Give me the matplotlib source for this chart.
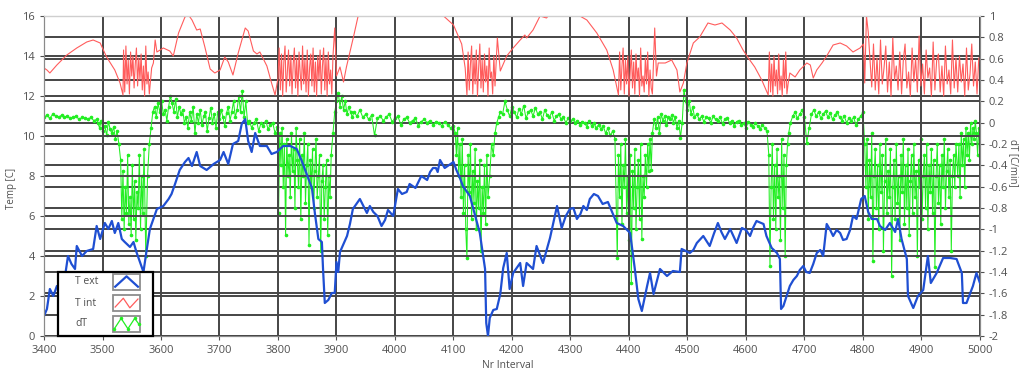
import numpy as np, matplotlib; matplotlib.use("Agg")
import matplotlib.pyplot as plt
from matplotlib.patches import Rectangle

plt.rcParams['font.family'] = ['Open Sans', 'DejaVu Sans']

# ---- T ext (left axis, degC) ----
text_x = [3400, 3405, 3410, 3416, 3422, 3430, 3436, 3441, 3447, 3453,
          3456, 3465, 3473, 3484, 3490, 3496, 3504, 3510, 3516, 3521,
          3527, 3533, 3538, 3547, 3553, 3558, 3564, 3570, 3575, 3581,
          3587, 3593, 3604, 3613, 3618, 3624, 3632, 3641, 3653, 3661,
          3667, 3678, 3690, 3701, 3707, 3715, 3723, 3732, 3738, 3744,
          3749, 3755, 3761, 3769, 3781, 3789, 3798, 3809, 3821, 3832,
          3840, 3849, 3858, 3863, 3869, 3875, 3877, 3880, 3886, 3892,
          3897, 3900, 3903, 3906, 3918, 3928, 3940, 3952, 3963, 3977,
          3988, 3997, 4005, 4020, 4030, 4040, 4050, 4060, 4070, 4077,
          4085, 4095, 4100, 4105, 4111, 4116, 4128, 4145, 4154, 4156,
          4159, 4162, 4168, 4174, 4180, 4185, 4191, 4196, 4202, 4214,
          4219, 4225, 4236, 4242, 4253, 4265, 4277, 4285, 4299, 4311,
          4322, 4333, 4347, 4355, 4364, 4379, 4390, 4402, 4410, 4416,
          4422, 4431, 4436, 4442, 4453, 4465, 4475, 4487, 4490, 4504,
          4516, 4527, 4538, 4552, 4564, 4573, 4584, 4593, 4607, 4618,
          4630, 4635, 4644, 4653, 4658, 4660, 4664, 4675, 4687, 4698,
          4709, 4721, 4732, 4738, 4749, 4761, 4772, 4783, 4789, 4797,
          4803, 4809, 4815, 4824, 4829, 4838, 4846, 4855, 4860, 4866,
          4875, 4877, 4886, 4894, 4903, 4911, 4916, 4926, 4937, 4949,
          4960, 4969, 4971, 4977, 4988, 4994, 5000]
text_y = [1.0, 1.35, 2.35, 2.0, 2.5, 2.2, 3.0, 4.0, 3.6, 3.35,
          4.5, 4.0, 4.25, 4.35, 5.5, 4.85, 5.65, 5.35, 5.75, 5.15,
          5.65, 4.85, 4.7, 4.45, 4.7, 4.2, 3.7, 3.2, 4.2, 5.35,
          5.85, 6.35, 6.5, 6.85, 7.1, 7.6, 8.3, 8.7, 8.5, 9.2,
          8.5, 8.3, 8.6, 8.8, 9.2, 8.6, 9.6, 9.75, 10.6, 10.85,
          9.75, 9.2, 10.15, 9.5, 9.5, 9.1, 9.2, 9.5, 9.5, 9.35,
          8.8, 8.1, 7.4, 6.15, 4.85, 4.7, 3.35, 1.65, 1.8, 2.15,
          2.15, 3.7, 3.2, 4.2, 5.0, 6.35, 6.85, 6.15, 6.2, 5.5,
          6.3, 6.0, 7.35, 7.2, 7.5, 7.7, 7.9, 8.2, 8.4, 8.8,
          8.4, 8.6, 8.7, 8.3, 7.9, 7.5, 7.0, 5.15, 3.35, 0.65,
          0.0, 0.9, 1.3, 1.35, 2.1, 3.4, 4.15, 2.35, 3.15, 3.65,
          2.5, 3.65, 3.35, 4.5, 3.65, 4.9, 6.5, 5.4, 6.35, 5.85,
          6.5, 6.85, 7.0, 6.6, 6.7, 5.65, 5.5, 5.15, 3.35, 1.85,
          1.25, 2.5, 3.15, 2.1, 3.35, 3.0, 3.25, 3.2, 4.35, 4.15,
          4.65, 5.0, 4.5, 5.65, 4.85, 5.35, 4.65, 5.4, 5.0, 5.75,
          5.6, 5.0, 4.4, 4.15, 3.85, 1.35, 1.5, 2.5, 3.0, 3.5,
          3.15, 4.15, 4.0, 5.6, 5.0, 5.15, 4.85, 6.0, 5.85, 6.85,
          7.0, 6.2, 5.85, 5.85, 5.5, 5.3, 5.65, 5.2, 5.85, 4.85,
          3.85, 2.0, 1.4, 2.0, 2.3, 4.0, 2.65, 3.15, 3.9, 3.9,
          3.85, 3.15, 1.65, 1.65, 2.5, 3.15, 2.65]
# extra readings of the small wiggles along T ext
text_x2 = [3647, 3912, 3923, 3957, 3970, 3983, 4012, 4025, 4035, 4045, 4055, 4065, 4073,
           4292, 4305, 4317, 4328, 4340, 4510, 4545, 4558, 4600, 4612,
           4681, 4692, 4703, 4715, 4727, 4744, 4755, 4766, 4778]
text_y2 = [8.9, 4.6, 5.6, 6.5, 6.0, 5.8, 7.1, 7.6, 7.4, 8.0, 7.8, 8.4, 8.2,
           6.0, 6.4, 6.1, 6.3, 7.1, 4.3, 5.1, 5.2, 5.3, 5.4,
           2.8, 3.3, 3.2, 3.6, 4.3, 5.3, 5.3, 4.8, 5.3]

# ---- T int (left axis, degC) ----
tint_x = ([3400, 3405, 3410, 3422, 3439, 3456, 3473, 3484, 3496, 3507, 3521, 3530, 3535]
          + list(range(3536, 3581, 2))
          + [3584, 3587, 3590, 3593, 3604, 3615, 3621, 3630, 3641, 3647, 3653, 3661, 3667, 3675, 3684,
             3692, 3701, 3709, 3715, 3723, 3732, 3744, 3749, 3758, 3764, 3769, 3781, 3789, 3795, 3800]
          + list(range(3802, 3895, 2))
          + [3897, 3900, 3906, 3912, 3917, 3929, 3937, 3950, 4000, 4060, 4083, 4100, 4114, 4120, 4123]
          + list(range(4125, 4176, 2))
          + [4180, 4191, 4202, 4214, 4222, 4225, 4236, 4248, 4259, 4270, 4300, 4316, 4328, 4345, 4362, 4373, 4382]
          + list(range(4384, 4441, 2))
          + [4444, 4447, 4450, 4462, 4473, 4482, 4487, 4493, 4499, 4510, 4521, 4535, 4547, 4559, 4573,
             4584, 4595, 4604, 4615, 4627, 4638]
          + list(range(4640, 4673, 2))
          + [4675, 4684, 4692, 4704, 4710, 4715, 4721, 4730, 4738, 4749, 4761, 4772, 4783, 4795, 4801,
             4803, 4806, 4809, 4815]
          + list(range(4818, 5001, 3)))
tint_y = ([13.4, 13.3, 13.15, 13.55, 14.05, 14.4, 14.7, 14.8, 14.65, 13.95, 13.3, 12.65, 12.05]
          + [14.3, 12.2, 14.5, 12.6, 13.8, 12.1, 14.2, 13.0, 14.0, 12.4, 13.6, 14.4, 12.5, 13.9, 12.8,
             14.1, 12.3, 13.5, 12.0, 14.5, 12.6, 13.2, 12.1]
          + [13.4, 13.65, 14.8, 14.2, 14.4, 14.25, 14.0, 15.15, 15.95, 16.05, 15.8, 15.3, 15.35, 14.45, 13.35,
             13.15, 13.3, 13.95, 13.7, 13.05, 14.15, 15.4, 15.25, 14.25, 14.1, 14.2, 13.5, 12.65, 12.05, 12.9]
          + [14.4, 12.3, 14.1, 12.0, 13.7, 14.5, 12.2, 13.2, 14.3, 12.5, 14.0, 12.1, 13.6, 14.4, 12.4, 13.9,
             12.0, 14.2, 13.1, 12.3, 14.5, 12.6, 13.8, 12.2, 14.3, 12.0, 13.4, 14.1, 12.5, 14.4, 12.2, 13.7,
             12.0, 14.0, 12.8, 14.3, 12.1, 13.5, 14.4, 12.3, 13.9, 12.0, 14.2, 12.6, 13.3, 12.1, 14.0]
          + [15.4, 13.0, 13.45, 12.7, 13.45, 14.95, 16.0, 16.8, 17.5, 17.0, 16.0, 15.55, 14.6, 13.4, 12.05]
          + [14.2, 12.3, 13.6, 14.5, 12.1, 13.9, 12.6, 14.3, 12.0, 13.4, 14.6, 12.4, 13.8, 12.2, 14.1, 12.7,
             13.5, 12.0, 14.4, 12.9, 13.2, 12.1, 14.0, 12.5, 13.7, 14.9]
          + [13.25, 14.0, 14.4, 14.8, 15.05, 14.9, 15.3, 16.0, 15.9, 16.3, 16.6, 16.0, 15.8, 15.15, 14.3, 13.3, 12.05]
          + [14.2, 12.3, 13.5, 14.4, 12.1, 13.8, 12.6, 14.0, 12.0, 13.2, 14.3, 12.4, 13.7, 12.1, 14.1, 12.8,
             13.4, 12.0, 14.4, 12.5, 13.0, 12.2, 13.9, 12.6, 14.2, 12.0, 13.3, 12.4, 12.1]
          + [15.4, 13.0, 13.65, 13.65, 13.8, 13.3, 12.2, 12.65, 13.65, 14.65, 14.95, 15.65, 15.55, 15.65, 15.3,
             14.9, 14.3, 13.9, 13.45, 12.8, 12.05]
          + [14.2, 12.2, 13.6, 12.0, 14.0, 12.5, 13.3, 12.1, 14.1, 12.3, 13.0, 12.0, 13.8, 12.4, 14.2, 12.1, 12.6]
          + [13.15, 12.95, 13.3, 13.65, 13.55, 12.9, 13.3, 13.65, 14.0, 14.55, 14.65, 14.5, 14.2, 14.4, 14.6,
             12.65, 16.0, 15.2, 12.45]
          + [14.6, 12.3, 13.9, 12.1, 14.8, 12.6, 13.4, 14.5, 12.2, 13.7, 12.0, 14.9, 12.8, 13.5, 12.3, 14.2,
             12.1, 13.8, 14.6, 12.4, 13.2, 12.0, 14.4, 12.7, 13.9, 12.2, 15.0, 12.5, 13.6, 12.1, 14.3, 12.9,
             13.4, 12.0, 14.7, 12.3, 13.8, 14.1, 12.2, 13.5, 12.0, 14.5, 12.6, 13.3, 12.1, 14.8, 12.4, 13.9,
             12.2, 14.0, 12.7, 13.6, 12.0, 14.4, 12.3, 13.1, 14.6, 12.5, 13.7, 12.1, 13.9])

# ---- dT (right axis, C/min) ----
dt_x = (list(range(3400, 3491, 5)) + list(range(3492, 3530, 3)) + list(range(3531, 3572, 2))
        + [3574, 3577, 3580, 3583, 3586]
        + list(range(3589, 3641, 3)) + list(range(3643, 3731, 3))
        + [3733, 3736, 3739, 3742, 3745, 3748]
        + list(range(3751, 3800, 4)) + list(range(3801, 3893, 2))
        + [3894, 3897, 3900, 3903, 3906, 3909, 3912, 3915, 3918, 3921, 3924, 3927]
        + list(range(3930, 4101, 5)) + list(range(4103, 4160, 2))
        + [4162, 4165, 4168, 4171, 4174, 4177]
        + list(range(4180, 4301, 4)) + list(range(4304, 4377, 4)) + list(range(4380, 4441, 2))
        + list(range(4443, 4513, 3)) + list(range(4516, 4637, 4)) + list(range(4639, 4674, 2))
        + list(range(4676, 4801, 4)) + list(range(4803, 4961, 2)) + list(range(4962, 5001, 2)))
dt_y = ([0.05, 0.07, 0.04, 0.08, 0.06, 0.05, 0.07, 0.05, 0.06, 0.04, 0.05, 0.06, 0.03, 0.05, 0.04,
         0.03, 0.05, 0.02, 0.03]
        + [0.0, -0.05, 0.02, -0.08, -0.03, -0.12, 0.01, -0.06, -0.1, -0.04, -0.15, -0.08, -0.2]
        + [-0.35, -0.9, -0.45, -1.0, -0.6, -0.85, -0.3, -0.95, -0.7, -1.05, -0.4, -0.9, -0.55, -1.1,
           -0.65, -0.8, -0.3, -1.0, -0.5, -0.85, -0.25]
        + [-1.25, -0.5, -0.2, -0.05, 0.1]
        + [0.15, 0.05, 0.18, 0.1, 0.2, 0.08, 0.12, 0.02, 0.15, 0.25, 0.18, 0.1, 0.22, 0.05, 0.15, 0.08, 0.12, 0.0]
        + [0.05, -0.05, 0.1, 0.02, 0.15, -0.1, 0.08, 0.0, 0.12, -0.02, 0.06, 0.1, -0.08, 0.04, 0.14,
           0.0, 0.08, -0.05, 0.1, 0.03, 0.12, 0.05, -0.03, 0.09, 0.15, 0.02, 0.1, 0.2, 0.05, 0.12]
        + [0.25, 0.1, 0.3, 0.05, 0.2, 0.0]
        + [0.02, -0.05, 0.0, 0.03, -0.08, 0.0, -0.03, 0.02, -0.06, -0.02, 0.0, -0.1, -0.04]
        + [-0.85, -0.1, -0.4, -0.05, -0.6, -0.2, -1.05, -0.15, -0.5, -0.3, -0.7, -0.1, -0.45, -0.25,
           -0.8, -0.05, -0.35, -0.6, -0.15, -0.9, -0.3, -0.5, -0.1, -0.75, -0.4, -0.2, -1.15, -0.35,
           -0.6, -0.25, -0.8, -0.45, -0.15, -0.7, -0.5, -0.3, -1.2, -0.55, -0.4, -0.9, -0.6, -0.35,
           -1.05, -0.5, -0.7, -0.3]
        + [-0.1, 0.1, 0.2, 0.28, 0.15, 0.25, 0.12, 0.2, 0.08, 0.15, 0.1, 0.05]
        + [0.1, 0.06, 0.12, 0.05, 0.08, 0.03, 0.07, -0.12, 0.04, 0.06, 0.02, 0.05, 0.08, 0.01, 0.04,
           0.06, -0.02, 0.03, 0.05, 0.0, 0.02, 0.04, -0.03, 0.01, 0.03, 0.0, 0.02, -0.02, 0.01, 0.0,
           -0.03, 0.01, -0.02, -0.05, -0.03]
        + [-0.1, -0.3, -0.05, -0.5, -0.2, -0.7, -0.15, -0.85, -0.4, -1.0, -1.27, -0.3, -0.65, -0.2,
           -0.9, -0.45, -0.75, -0.25, -1.0, -0.55, -0.8, -0.35, -1.2, -0.6, -0.85, -0.4, -0.95, -0.3, -0.7]
        + [-0.5, -0.2, -0.3, -0.1, 0.0, 0.05]
        + [0.1, 0.08, 0.2, 0.12, 0.06, 0.15, 0.1, 0.05, 0.13, 0.08, 0.16, 0.04, 0.1, 0.12, 0.06, 0.14,
           0.08, 0.1, 0.03, 0.12, 0.07, 0.05, 0.1, 0.02, 0.06, 0.08, 0.03, 0.05, 0.0, 0.04, 0.02]
        + [0.03, 0.0, 0.02, -0.02, 0.01, 0.0, -0.04, 0.02, -0.03, 0.0, -0.05, -0.02, -0.06, -0.03,
           -0.1, -0.05, -0.12, -0.08, -0.15]
        + [-1.27, -0.3, -0.7, -0.2, -0.95, -0.4, -0.6, -0.15, -0.85, -0.5, -1.1, -0.3, -1.5, -0.45,
           -0.8, -0.25, -1.0, -0.6, -0.35, -0.9, -0.2, -1.09, -0.5, -0.7, -0.3, -0.6, -0.2, -0.45,
           -0.15, -0.44, -0.1]
        + [0.03, -0.05, 0.05, -0.1, 0.08, 0.02, 0.06, -0.02, 0.05, 0.03, 0.07, 0.0, 0.05, -0.05,
           0.02, -0.14, 0.0, 0.31, 0.2, 0.12, 0.2, 0.08, 0.15, 0.05]
        + [0.08, 0.03, 0.06, 0.01, 0.05, 0.04, 0.0, 0.06, 0.03, 0.02, 0.05, -0.01, 0.03, 0.04, 0.0,
           0.02, -0.03, 0.01, 0.02, -0.02, 0.0, -0.05, 0.01, -0.02, -0.04, 0.0, -0.03, -0.06, -0.02,
           -0.05, -0.08]
        + [-0.3, -1.34, -0.6, -0.2, -0.9, -0.4, -1.0, -0.25, -0.7, -0.5, -1.1, -0.15, -0.8, -0.3,
           -1.25, -0.4, -0.2, -0.1]
        + [0.0, 0.06, 0.1, 0.04, 0.08, 0.12, 0.05, -0.19, -0.05, 0.08, 0.12, 0.06, 0.1, 0.04, 0.08,
           0.11, 0.05, 0.09, 0.03, 0.07, 0.1, 0.05, 0.02, 0.06, 0.0, 0.04, 0.02, 0.05, -0.02, 0.03, 0.06, 0.1]
        + [-0.2, -0.6, -0.15, -0.9, -0.35, -0.7, -0.1, -1.3, -0.5, -0.25, -0.8, -0.4, -1.0, -0.2,
           -0.65, -0.3, -1.2, -0.55, -0.15, -0.85, -0.45, -0.7, -0.25, -1.44, -0.6, -0.35, -0.9, -0.2,
           -0.75, -0.5, -1.1, -0.3, -0.65, -0.15, -0.95, -0.4, -0.8, -0.25, -1.05, -0.55, -0.3, -0.85,
           -0.2, -0.7, -0.45, -1.25, -0.35, -0.6, -0.15, -0.9, -0.5, -0.3, -0.8, -0.2, -1.0, -0.4,
           -0.65, -0.25, -0.85, -0.35, -1.35, -0.5, -0.2, -0.75, -0.4, -0.95, -0.3, -0.6, -0.15, -0.8,
           -0.45, -0.25, -0.7, -0.35, -1.2, -0.5, -0.3, -0.6, -0.2]
        + [-0.5, -0.2, -0.7, -0.1, -0.4, -0.15, -0.6, -0.05, -0.3, -0.1, -0.35, 0.0, -0.2, -0.05,
           -0.15, 0.02, -0.1, -0.3, -0.05, -0.2])

x_ticks = list(range(3400, 5001, 100))
left_ticks = list(range(0, 17, 2))
right_ticks = [round(-2 + 0.2 * i, 1) for i in range(16)]
labels = ["T ext", "T int", "dT"]
colors = ["#1f4fd2", "#ff5c5c", "#22ee22"]

GRID = "#454545"
TXT = "#505050"

# merge the two sets of T ext readings in x order
ext = sorted(zip(text_x + text_x2, text_y + text_y2))
ext_x = [p[0] for p in ext]; ext_y = [p[1] for p in ext]

fig = plt.figure(figsize=(10.21, 3.72), dpi=100)
ax = fig.add_axes([0.0431, 0.0968, 0.9167, 0.8602])
ax2 = ax.twinx()
ax.set_zorder(2); ax.patch.set_visible(False)

ax2.plot(dt_x, dt_y, color=colors[2], lw=0.75, marker='.', ms=3.2)
ax.plot(tint_x, tint_y, color=colors[1], lw=0.8)
ax.plot(ext_x, ext_y, color=colors[0], lw=1.6)

ax.set_xlim(3400, 5000); ax.set_ylim(0, 16); ax2.set_ylim(-2, 1)
ax.set_xticks(x_ticks); ax.set_yticks(left_ticks)
ax2.set_yticks(right_ticks)
ax2.set_yticklabels(["%g" % v for v in right_ticks])
ax.grid(True, color=GRID, lw=1.4)
ax2.grid(True, axis='y', color=GRID, lw=1.4)
ax.set_axisbelow(True)

for a in (ax, ax2):
    a.tick_params(labelsize=8, colors=TXT, length=3, width=0.8)
    for s in a.spines.values():
        s.set_color("#8a8a8a")
ax.spines['top'].set_color("#cfcfcf")

ax.set_ylabel("Temp [C]", fontsize=7, color=TXT)
ax.yaxis.set_label_coords(-0.029, 0.46)
ax.set_xlabel("Nr Interval", fontsize=7.5, color=TXT)
ax.xaxis.set_label_coords(0.495, -0.074)
ax2.set_ylabel("dT [C/min]", fontsize=7, color=TXT, rotation=270, va='center')
ax2.yaxis.set_label_coords(1.036, 0.54)

# legend box (LabVIEW style: label then swatch)
ax.add_patch(Rectangle((0.0153, 0.0), 0.1015, 0.2, transform=ax.transAxes, facecolor='white',
                       edgecolor='black', lw=1.6, zorder=10, clip_on=False))
rows = [0.169, 0.103, 0.0375]
zig = {0: ([0.08, 0.5, 0.92], [0.2, 0.85, 0.2]),
       1: ([0.08, 0.38, 0.62, 0.92], [0.25, 0.8, 0.2, 0.75]),
       2: ([0.05, 0.3, 0.55, 0.8, 0.95], [0.2, 0.85, 0.2, 0.85, 0.5])}
sx0, sw, sh = 0.0737, 0.029, 0.05
for i, (lab, yc) in enumerate(zip(labels, rows)):
    ax.text(0.033, yc, lab, transform=ax.transAxes, fontsize=7.5, color=TXT, va='center', zorder=11)
    ax.add_patch(Rectangle((sx0, yc - sh / 2), sw, sh, transform=ax.transAxes, facecolor='white',
                           edgecolor='#8c8c8c', lw=1.3, zorder=11, clip_on=False))
    zx, zy = zig[i]
    ax.plot([sx0 + sw * v for v in zx], [yc - sh / 2 + sh * v for v in zy], transform=ax.transAxes,
            color=colors[i], lw=1.6 if i == 0 else 0.9, marker='.' if i == 2 else None, ms=3,
            zorder=12, clip_on=False)

fig.savefig("out.png", dpi=100, facecolor='white')
